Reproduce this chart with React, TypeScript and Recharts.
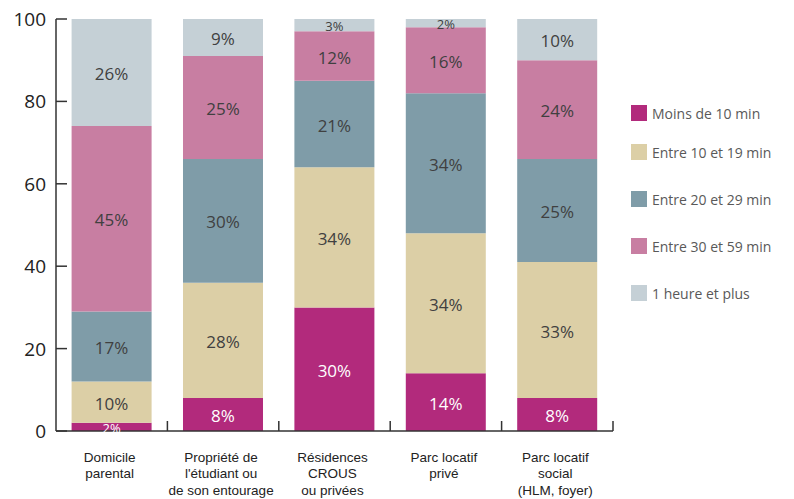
import { BarChart, Bar, XAxis, YAxis, LabelList } from 'recharts';

const CATEGORIES = [
  ['Domicile', 'parental'],
  ['Propriété de', "l'étudiant ou", 'de son entourage'],
  ['Résidences', 'CROUS', 'ou privées'],
  ['Parc locatif', 'privé'],
  ['Parc locatif', 'social', '(HLM, foyer)'],
];

const SERIES = [
  { key: 'moins10', name: 'Moins de 10 min', color: '#b22a7c', text: '#ffffff' },
  { key: 'e10_19', name: 'Entre 10 et 19 min', color: '#dccfa6', text: '#404040' },
  { key: 'e20_29', name: 'Entre 20 et 29 min', color: '#7f9ca8', text: '#404040' },
  { key: 'e30_59', name: 'Entre 30 et 59 min', color: '#c87ea2', text: '#404040' },
  { key: 'plus1h', name: '1 heure et plus', color: '#c5d0d6', text: '#404040' },
];

const MOINS_10 = [2, 8, 30, 14, 8];
const ENTRE_10_19 = [10, 28, 34, 34, 33];
const ENTRE_20_29 = [17, 30, 21, 34, 25];
const ENTRE_30_59 = [45, 25, 12, 16, 24];
const PLUS_1H = [26, 9, 3, 2, 10];

const Y_TICKS = [0, 20, 40, 60, 80, 100];

const data = CATEGORIES.map((lines, i) => ({
  name: lines.join(' '),
  moins10: MOINS_10[i],
  e10_19: ENTRE_10_19[i],
  e20_29: ENTRE_20_29[i],
  e30_59: ENTRE_30_59[i],
  plus1h: PLUS_1H[i],
}));

const W = 794;
const H = 499;
const MARGIN = { top: 19, right: 181, bottom: 0, left: 0 };
const Y_W = 56;
const X_H = 68;
const PLOT_W = W - MARGIN.right - Y_W;
const BAND = PLOT_W / CATEGORIES.length;

const FONT = '"Open Sans", sans-serif';
const AXIS = '#333333';

function YTick(props: any) {
  const { x, y, payload } = props;
  return (
    <g>
      <line x1={x} x2={x + 11} y1={y} y2={y} stroke={AXIS} strokeWidth={1.5} />
      <text x={x - 10} y={y} textAnchor="end" dominantBaseline="central" fontSize={19} fill="#222" fontFamily={FONT}>
        {payload.value}
      </text>
    </g>
  );
}

function XTick(props: any) {
  const { x, y, index } = props;
  const lines = CATEGORIES[index] || [];
  const bx = x + BAND / 2;
  return (
    <g>
      <line x1={bx} x2={bx} y1={y - 10} y2={y} stroke={AXIS} strokeWidth={1.5} />
      {lines.map((l, k) => (
        <text
          key={k}
          x={x - 2}
          y={y + 26 + k * 16.5}
          textAnchor="middle"
          dominantBaseline="central"
          fontSize={13.5}
          fill="#222"
          fontFamily='"Liberation Sans", Arial, sans-serif'
        >
          {l}
        </text>
      ))}
    </g>
  );
}

function makeLabel(color: string) {
  return (props: any) => {
    const { x, y, width, height, value } = props;
    const small = value < 5;
    return (
      <text
        x={x + width / 2}
        y={y + height / 2 + 1}
        textAnchor="middle"
        dominantBaseline="central"
        fontSize={small ? 13 : 17}
        fill={color}
        fontFamily={FONT}
      >
        {value}%
      </text>
    );
  };
}

function LegendBox() {
  return (
    <div style={{ position: 'absolute', left: 631, top: 105, fontFamily: FONT, fontSize: 14, color: '#595959' }}>
      {SERIES.map((s, i) => (
        <div key={s.key} style={{ display: 'flex', alignItems: 'center', height: 16, marginBottom: i === 0 ? 23 : 31, whiteSpace: 'nowrap' }}>
          <span style={{ width: 16, height: 16, background: s.color, display: 'inline-block', marginRight: 5 }} />
          <span>{s.name}</span>
        </div>
      ))}
    </div>
  );
}

export default function App() {
  return (
    <div style={{ position: 'absolute', left: 0, top: 0, width: W, height: H, background: '#fff' }}>
      <BarChart width={W} height={H} data={data} margin={MARGIN} barCategoryGap="14%">
        <XAxis
          dataKey="name"
          height={X_H}
          interval={0}
          tickSize={0}
          tickMargin={0}
          axisLine={{ stroke: AXIS, strokeWidth: 1.5 }}
          tickLine={false}
          tick={<XTick />}
        />
        <YAxis
          width={Y_W}
          domain={[0, 100]}
          ticks={Y_TICKS}
          interval={0}
          tickSize={0}
          tickMargin={0}
          axisLine={{ stroke: AXIS, strokeWidth: 1.5 }}
          tickLine={false}
          tick={<YTick />}
        />
        {SERIES.map((s) => (
          <Bar key={s.key} dataKey={s.key} name={s.name} stackId="a" fill={s.color} isAnimationActive={false}>
            <LabelList dataKey={s.key} content={makeLabel(s.text)} />
          </Bar>
        ))}
      </BarChart>
      <LegendBox />
    </div>
  );
}
